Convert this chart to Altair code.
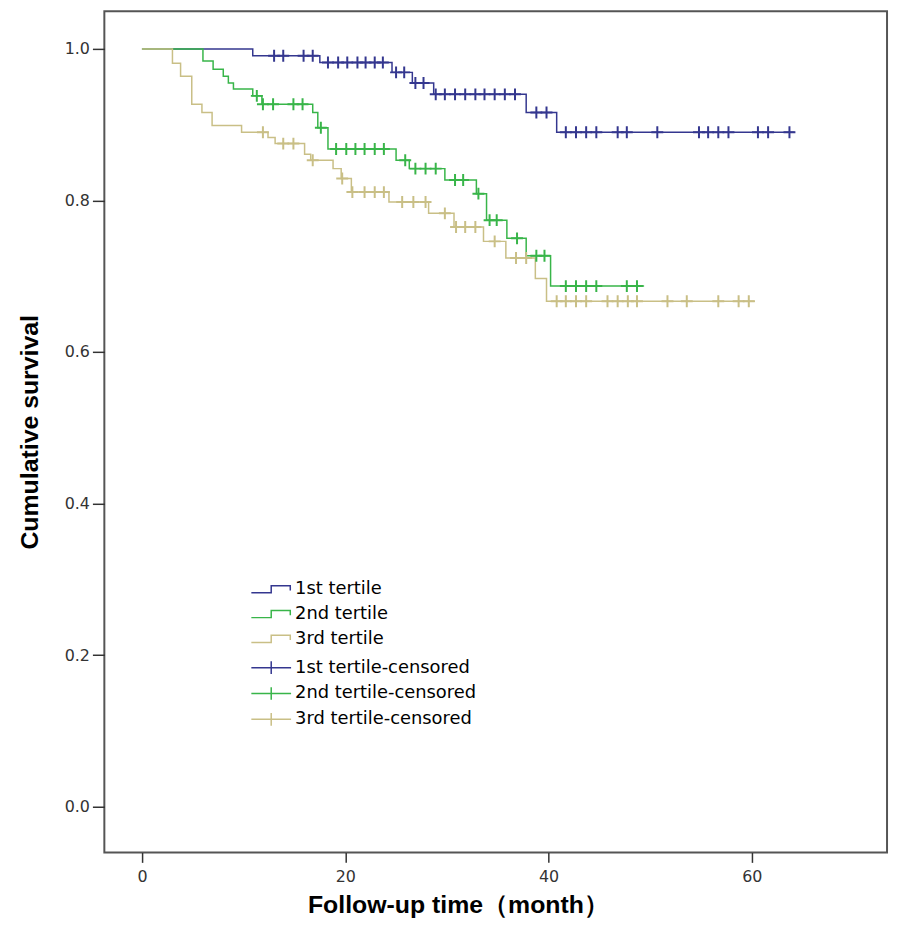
import altair as alt
import pandas as pd

# ---------------- data ----------------
line_labels = ["1st tertile", "2nd tertile", "3rd tertile"]
cens_labels = ["1st tertile-censored", "2nd tertile-censored", "3rd tertile-censored"]
colors = ["#34378f", "#38b549", "#c9bf86"]

# 1st tertile: step times / survival, last follow-up time
t1 = [0, 10.9, 17.5, 24.6, 26.6, 28.7, 37.8, 40.8]
s1 = [1.0, 0.991, 0.982, 0.969, 0.955, 0.940, 0.916, 0.890]
end1 = 64.2
c1_t = [13.0, 13.9, 15.9, 16.8,
        18.3, 19.3, 20.2, 21.2, 22.0, 22.9, 23.7,
        25.0, 25.8,
        26.9, 27.7,
        28.9, 29.8, 30.8, 31.8, 32.8, 33.7, 34.7, 35.7, 36.7,
        38.8, 39.8,
        41.7, 42.7, 43.7, 44.7, 46.8, 47.7, 50.7, 54.8, 55.7, 56.7, 57.7, 60.6, 61.6, 63.7]

# 2nd tertile
t2 = [0, 6.0, 7.0, 8.0, 8.5, 9.0, 10.9, 11.8, 16.8, 17.3, 18.3, 25.0, 26.3,
      29.8, 32.9, 33.9, 35.9, 37.8, 40.2]
s2 = [1.0, 0.984, 0.973, 0.964, 0.955, 0.947, 0.938, 0.927, 0.916, 0.896, 0.868,
      0.853, 0.842, 0.827, 0.809, 0.774, 0.750, 0.727, 0.687]
end2 = 49.4
c2_t = [11.3, 11.9, 12.9, 14.9, 15.8, 17.6,
        19.1, 20.1, 21.0, 21.9, 22.9, 23.8,
        25.9, 26.9, 27.9, 28.9, 30.8, 31.6, 33.1, 34.2, 34.9, 36.9, 38.8, 39.6,
        41.7, 42.7, 43.7, 44.7, 47.7, 48.7]

# 3rd tertile
t3 = [0, 3.0, 3.8, 4.9, 5.9, 6.9, 9.8, 12.4, 13.1, 16.0, 16.6, 18.8, 19.6, 20.6,
      24.3, 28.2, 30.7, 33.6, 35.8, 38.7, 39.8]
s3 = [1.0, 0.981, 0.964, 0.927, 0.916, 0.899, 0.890, 0.883, 0.875, 0.861, 0.853,
      0.842, 0.829, 0.811, 0.798, 0.783, 0.765, 0.746, 0.724, 0.697, 0.667]
end3 = 60.3
c3_t = [11.9, 13.9, 14.9, 16.8, 19.7, 20.7, 21.9, 22.9, 23.8,
        25.6, 26.7, 27.9, 29.8, 30.9, 31.8, 32.8, 34.7, 36.8, 37.8,
        40.8, 41.7, 42.7, 43.7, 45.8, 46.8, 47.8, 48.7, 51.7, 53.6, 56.7, 58.7, 59.7]

x_ticks = [0, 20, 40, 60]
y_ticks = [0.0, 0.2, 0.4, 0.6, 0.8, 1.0]


def surv_at(ts, ss, t):
    v = ss[0]
    for a, b in zip(ts, ss):
        if a <= t:
            v = b
    return v


rows, crows = [], []
for lab, clab, ts, ss, end, cts in [
    (line_labels[0], cens_labels[0], t1, s1, end1, c1_t),
    (line_labels[1], cens_labels[1], t2, s2, end2, c2_t),
    (line_labels[2], cens_labels[2], t3, s3, end3, c3_t),
]:
    for a, b in zip(ts, ss):
        rows.append({"t": a, "s": b, "series": lab})
    rows.append({"t": end, "s": ss[-1], "series": lab})
    for c in cts:
        crows.append({"t": c, "s": surv_at(ts, ss, c), "cens": clab})

lines_df = pd.DataFrame(rows)
cens_df = pd.DataFrame(crows)

x_enc = alt.X("t:Q", scale=alt.Scale(domain=[-3.7, 73.3], nice=False, zero=False),
              axis=alt.Axis(values=x_ticks, title="Follow-up time（month）", tickSize=10,
                            labelPadding=6, titlePadding=8, titleX=356))
y_enc = alt.Y("s:Q", scale=alt.Scale(domain=[-0.0603, 1.0498], nice=False, zero=False),
              axis=alt.Axis(values=y_ticks, format=".1f", title="Cumulative survival",
                            tickSize=12, labelPadding=3, titlePadding=22))

step_path = "M-2.5,0.45H0V-0.45H2.4V0.15"
cross_long = "M-2.5,0H2.5M0,-0.8V0.8"

leg_common = dict(orient="none", title=None, symbolSize=256, symbolStrokeWidth=1.5,
                  labelFont="DejaVu Sans", labelFontSize=18, labelColor="#000",
                  labelOffset=15, padding=0, labelLimit=400)

lines = alt.Chart(lines_df).mark_line(interpolate="step-after", strokeWidth=1.5).encode(
    x=x_enc, y=y_enc,
    color=alt.Color("series:N", scale=alt.Scale(domain=line_labels, range=colors),
                    legend=alt.Legend(legendX=159, legendY=573, symbolType=step_path,
                                      rowPadding=7, **leg_common)),
)

cens = alt.Chart(cens_df).mark_point(shape="M-1,0H1M0,-1V1", size=144, filled=False,
                                     strokeWidth=2, opacity=1).encode(
    x="t:Q", y="s:Q",
    stroke=alt.Stroke("cens:N", scale=alt.Scale(domain=cens_labels, range=colors),
                      legend=alt.Legend(legendX=159, legendY=652, symbolType=cross_long,
                                        rowPadding=6, **leg_common)),
)

chart = alt.layer(lines, cens).resolve_legend(color="independent", stroke="independent").properties(
    width=788, height=847,
    autosize=alt.AutoSizeParams(type="none"),
    padding={"left": 97, "top": 0, "right": 5, "bottom": 85},
).configure_view(stroke="#555555", strokeWidth=2).configure_axis(
    grid=False, domain=False, tickColor="#333333", tickWidth=1.5,
    labelFont="DejaVu Sans", labelFontSize=16, labelColor="#333333",
    titleFont="Liberation Sans", titleFontSize=25, titleFontWeight="bold", titleColor="#000",
)

chart.save("out.html", embed_options={"renderer": "svg", "actions": False})
